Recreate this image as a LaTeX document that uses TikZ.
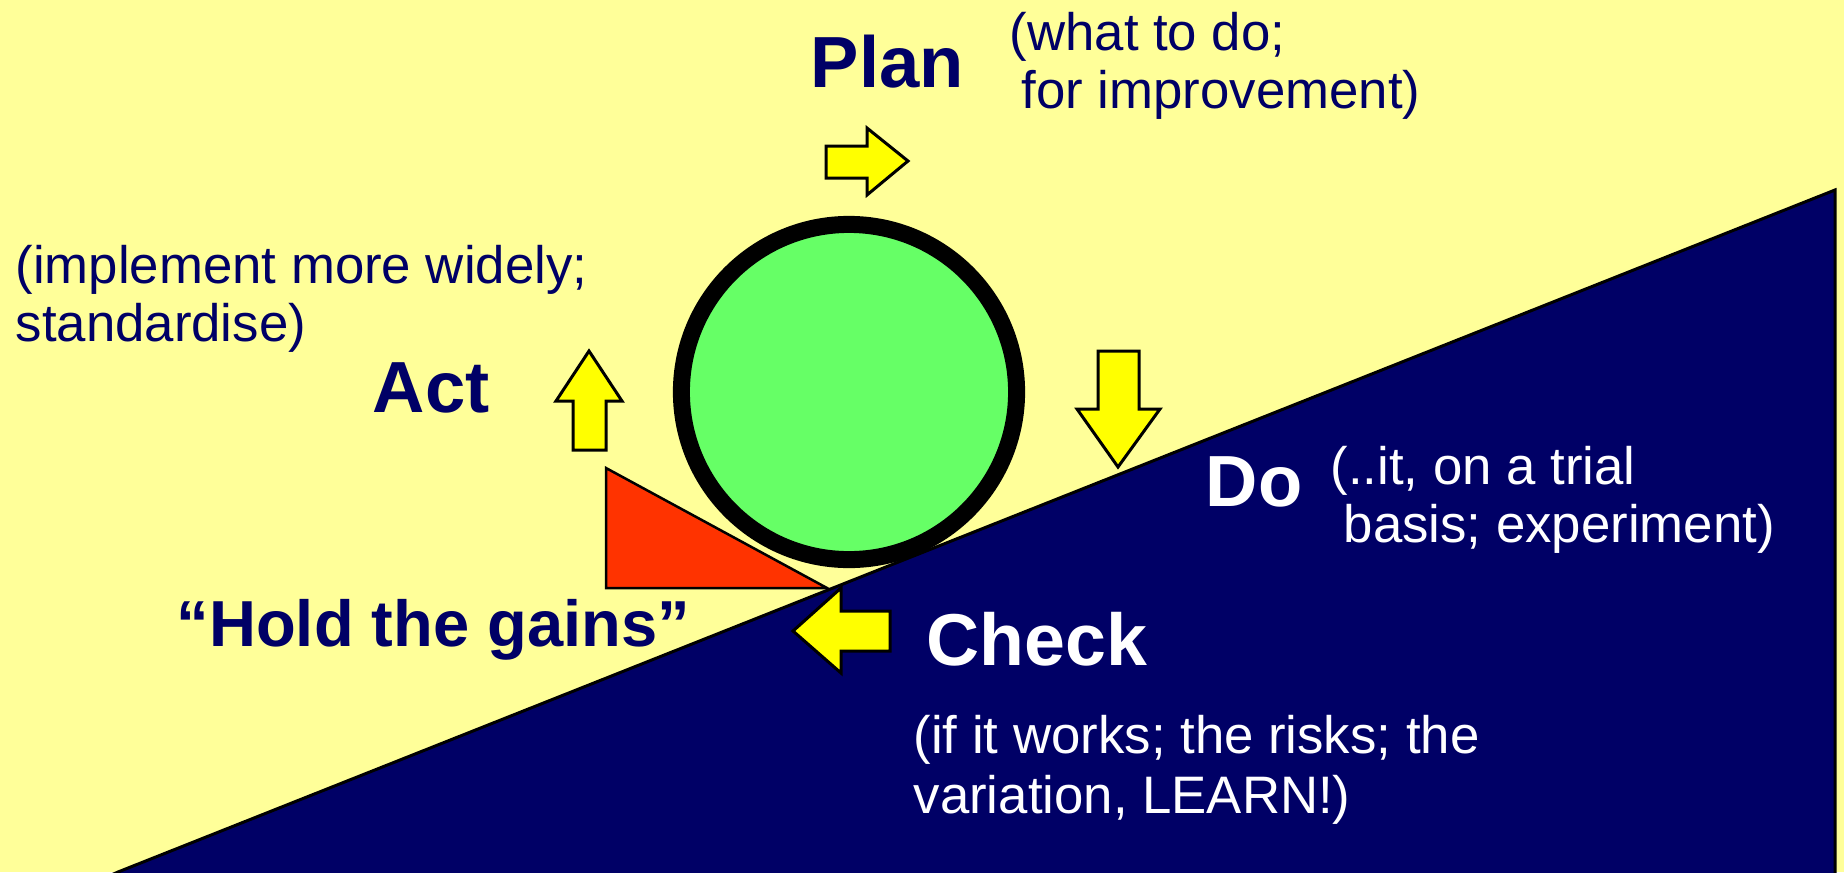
\documentclass[tikz,border=0pt]{standalone}
\usepackage{fontspec}
\setmainfont{Liberation Sans}
\definecolor{bgyellow}{HTML}{FFFF99}
\definecolor{navy}{HTML}{000066}
\definecolor{wheelgreen}{HTML}{66FF66}
\definecolor{wedgered}{HTML}{FF3300}
\definecolor{arrowyellow}{HTML}{FFFF00}
\tikzset{
  note/.style={anchor=base west, inner sep=0pt, text=navy, font=\fontsize{15}{16.5}\selectfont},
  notew/.style={note, text=white},
  stage/.style={anchor=base west, inner sep=0pt, text=navy, font=\fontsize{20.6}{24}\selectfont\bfseries},
  stagew/.style={stage, text=white},
  arrowshape/.style={draw=black, fill=arrowyellow, line width=0.03cm, line join=miter},
}
\begin{document}
\begin{tikzpicture}[x=0.01cm, y=-0.01cm]
\useasboundingbox (0,0) rectangle (1844,872);
\fill[bgyellow] (0,0) rectangle (1844,872);
% slope
\begin{scope}
\clip (0,0) rectangle (1844,872);
\draw[fill=navy, draw=black, line width=0.03cm] (118,872) -- (1835,190) -- (1835,880) -- (100,880) -- cycle;
\end{scope}
% wedge
\draw[fill=wedgered, draw=black, line width=0.025cm, line join=miter] (606,468) -- (606,588) -- (827,588) -- cycle;
% wheel
\node[circle, draw=black, fill=wheelgreen, line width=0.17cm, minimum size=3.35cm, inner sep=0pt] (wheel) at (849,392) {};
% arrows
\draw[arrowshape] (826,146) -- (867,146) -- (867,128) -- (908,161) -- (867,195) -- (867,178) -- (826,178) -- cycle;
\draw[arrowshape] (1098,351) -- (1139,351) -- (1139,409) -- (1160,409) -- (1118,467) -- (1077,409) -- (1098,409) -- cycle;
\draw[arrowshape] (890,611) -- (841,611) -- (841,588) -- (793,631) -- (841,673) -- (841,651) -- (890,651) -- cycle;
\draw[arrowshape] (573,450) -- (573,401) -- (556,401) -- (589,351) -- (622,401) -- (606,401) -- (606,450) -- cycle;
% labels
\node[stage] (plan) at (810,87) {Plan};
\node[note] (planA) at (1009,50) {(what to do;};
\node[note] (planB) at (1021,108) {for improvement)};
\node[note] (actA) at (15,283) {(implement more widely;};
\node[note] (actB) at (15,341) {standardise)};
\node[stage] (act) at (372,412) {Act};
\node[stage, font=\fontsize{18.5}{22}\selectfont\bfseries] (hold) at (176,646) {“Hold the gains”};
\node[stagew] (do) at (1205,506) {Do};
\node[notew] (doA) at (1330,484) {(..it, on a trial};
\node[notew] (doB) at (1343,542) {basis; experiment)};
\node[stagew, font=\fontsize{20.9}{24}\selectfont\bfseries] (check) at (926,665) {Check};
\node[notew] (checkA) at (913,753) {(if it works; the risks; the};
\node[notew] (checkB) at (913,813) {variation, LEARN!)};
\end{tikzpicture}
\end{document}
